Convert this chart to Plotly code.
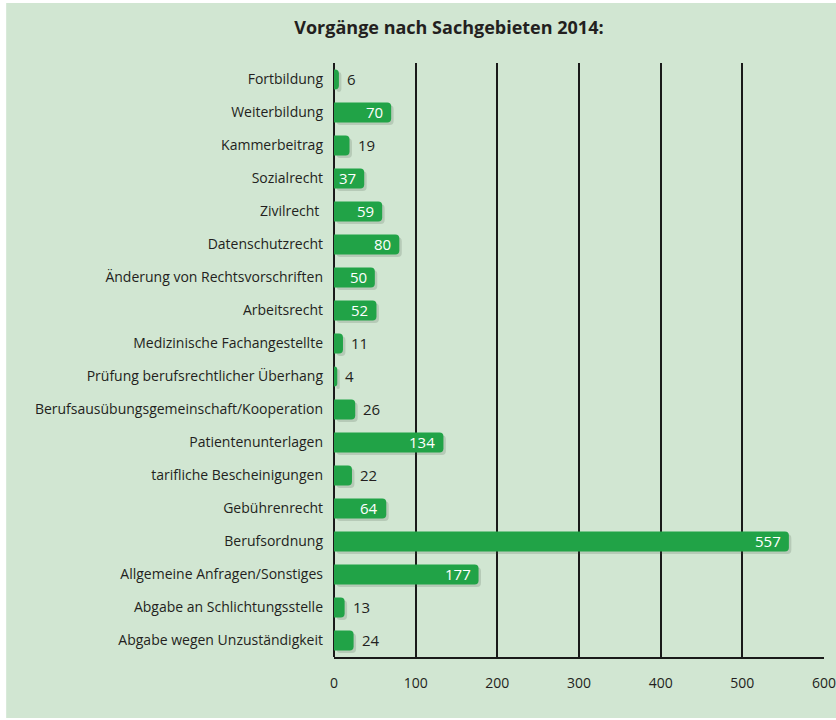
import plotly.graph_objects as go

# Vorgänge nach Sachgebieten 2014
categories = [
    "Fortbildung",
    "Weiterbildung",
    "Kammerbeitrag",
    "Sozialrecht",
    "Zivilrecht ",
    "Datenschutzrecht",
    "Änderung von Rechtsvorschriften",
    "Arbeitsrecht",
    "Medizinische Fachangestellte",
    "Prüfung berufsrechtlicher Überhang",
    "Berufsausübungsgemeinschaft/Kooperation",
    "Patientenunterlagen",
    "tarifliche Bescheinigungen",
    "Gebührenrecht",
    "Berufsordnung",
    "Allgemeine Anfragen/Sonstiges",
    "Abgabe an Schlichtungsstelle",
    "Abgabe wegen Unzuständigkeit",
]
values = [6, 70, 19, 37, 59, 80, 50, 52, 11, 4, 26, 134, 22, 64, 557, 177, 13, 24]
x_ticks = [0, 100, 200, 300, 400, 500, 600]

bg = "#d1e6d2"
green = "#21a347"
dark = "#231f20"

fig = go.Figure()

# soft drop shadow behind the bars
fig.add_trace(go.Bar(
    y=categories, x=values, base=3, orientation="h",
    width=0.6, offset=-0.22,
    marker=dict(color="rgba(60,80,60,0.18)", cornerradius=4, line=dict(width=0)),
    hoverinfo="skip", showlegend=False,
))

fig.add_trace(go.Bar(
    y=categories, x=values, orientation="h",
    width=0.6, offset=-0.3,
    marker=dict(color=green, cornerradius=4, line=dict(width=0)),
    showlegend=False,
))

# value labels: white inside the longer bars, dark next to the short ones
for cat, v in zip(categories, values):
    inside = v >= 30
    fig.add_annotation(
        x=v, y=cat, xref="x", yref="y",
        text=str(v), showarrow=False,
        xanchor="right" if inside else "left",
        xshift=-6 if inside else 6, yshift=1,
        font=dict(family="Open Sans", size=15, color="white" if inside else dark),
    )

# green panel behind the chart (thin white border around it)
fig.add_shape(
    type="rect", xref="paper", yref="paper",
    x0=-0.669, x1=1.05, y0=-0.1027, y1=1.101,
    fillcolor=bg, line=dict(width=0), layer="below",
)

fig.update_layout(
    width=836, height=720,
    paper_bgcolor="white", plot_bgcolor=bg,
    barmode="overlay",
    margin=dict(l=334, r=12, t=63, b=63),
    title=dict(
        text="<b>Vorgänge nach Sachgebieten 2014:</b>",
        x=0.537, xanchor="center", y=0.961, yanchor="middle",
        font=dict(family="Open Sans", size=18, color=dark),
    ),
    xaxis=dict(
        range=[0, 600], tickvals=x_ticks,
        showgrid=True, gridcolor="#1a1a1a", gridwidth=2,
        zeroline=True, zerolinecolor="#1a1a1a", zerolinewidth=2,
        showline=True, linecolor="#1a1a1a", linewidth=2,
        ticks="", ticklabelstandoff=12, ticklabeloverflow="allow",
        automargin=False,
        tickfont=dict(family="Open Sans", size=14, color=dark),
        fixedrange=True,
    ),
    yaxis=dict(
        autorange="reversed", showgrid=False, zeroline=False,
        ticks="", ticklabelstandoff=10, automargin=False,
        tickfont=dict(family="Open Sans", size=14, color=dark),
        fixedrange=True,
    ),
)

fig.write_html(
    "out.html",
    config={"displayModeBar": False},
    post_script="document.body.style.margin = '0';",
)
